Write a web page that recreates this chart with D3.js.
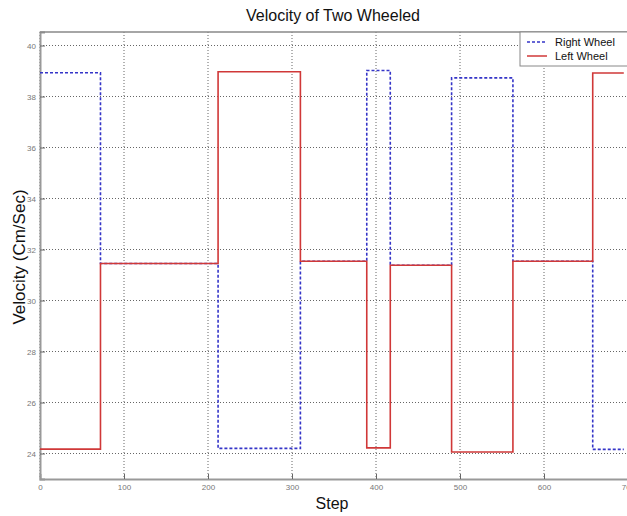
<!DOCTYPE html>
<html>
<head>
<meta charset="utf-8">
<script src="https://cdn.jsdelivr.net/npm/d3@7"></script>
<style>
  body { margin: 0; background: #fff; }
  svg { display: block; font-family: "Liberation Sans", Arial, sans-serif; }
</style>
</head>
<body>
<script>
// Step positions where the wheel speeds switch
const steps = [0, 72, 212, 310, 389, 417, 490, 563, 658, 695];
// Velocity held from each step to the next one
const rightWheel = [38.93, 31.45, 24.2, 31.54, 39.02, 31.38, 38.73, 31.54, 24.16, 24.16];
const leftWheel = [24.17, 31.45, 38.97, 31.54, 24.22, 31.38, 24.06, 31.54, 38.92, 38.92];
const xTicks = [0, 100, 200, 300, 400, 500, 600, 700];
const yTicks = [24, 26, 28, 30, 32, 34, 36, 38, 40];

const outerWidth = 627;
const outerHeight = 516;
const margin = { top: 32, right: -1, bottom: 37, left: 40 };
const width = outerWidth - margin.left - margin.right;
const height = outerHeight - margin.top - margin.bottom;

const svg = d3.select("body").append("svg")
    .attr("width", outerWidth)
    .attr("height", outerHeight);

const g = svg.append("g")
    .attr("transform", `translate(${margin.left},${margin.top})`);

const x = d3.scaleLinear().domain([0, 700]).range([0, width]);
const y = d3.scaleLinear().domain([23, 40.53]).range([height, 0]);

// Grid lines
g.append("g").selectAll("line")
    .data(xTicks)
    .join("line")
    .attr("x1", d => x(d)).attr("x2", d => x(d))
    .attr("y1", 0).attr("y2", height)
    .attr("stroke", "#666")
    .attr("stroke-dasharray", "1,2");

g.append("g").selectAll("line")
    .data(yTicks)
    .join("line")
    .attr("x1", 0).attr("x2", width)
    .attr("y1", d => y(d)).attr("y2", d => y(d))
    .attr("stroke", "#666")
    .attr("stroke-dasharray", "1,2");

// Axes with ticks pointing inward
const xAxis = g.append("g")
    .attr("transform", `translate(0,${height})`)
    .call(d3.axisBottom(x).tickValues(xTicks).tickSize(-5).tickPadding(5));

const yAxis = g.append("g")
    .call(d3.axisLeft(y).tickValues(yTicks).tickSize(-5).tickPadding(4));

[xAxis, yAxis].forEach(a => {
    a.select(".domain").attr("stroke", "#999").attr("stroke-width", 2);
    a.selectAll(".tick line").attr("stroke", "#666");
    a.selectAll(".tick text")
        .attr("fill", "#777")
        .style("font-size", "8px")
        .style("font-family", "'Liberation Sans Narrow', 'Liberation Sans', sans-serif");
});

// Top frame
g.append("line")
    .attr("x1", 0).attr("x2", width)
    .attr("y1", 0).attr("y2", 0)
    .attr("stroke", "#888").attr("stroke-width", 1.5);

const line = d3.line()
    .x((d, i) => x(steps[i]))
    .y(d => y(d))
    .curve(d3.curveStepAfter);

g.append("path")
    .datum(rightWheel)
    .attr("d", line)
    .attr("fill", "none")
    .attr("stroke", "#3535c8")
    .attr("stroke-width", 1.6)
    .attr("stroke-dasharray", "3,2");

g.append("path")
    .datum(leftWheel)
    .attr("d", line)
    .attr("fill", "none")
    .attr("stroke", "#d03838")
    .attr("stroke-width", 1.6);

// Title and axis labels
svg.append("text")
    .attr("x", 333).attr("y", 21)
    .attr("text-anchor", "middle")
    .style("font-size", "16px")
    .attr("fill", "#111")
    .text("Velocity of Two Wheeled");

svg.append("text")
    .attr("x", 332).attr("y", 509)
    .attr("text-anchor", "middle")
    .style("font-size", "16px")
    .attr("fill", "#111")
    .text("Step");

svg.append("text")
    .attr("transform", "translate(25,257) rotate(-90)")
    .attr("text-anchor", "middle")
    .style("font-size", "17px")
    .attr("fill", "#111")
    .text("Velocity (Cm/Sec)");

// Legend
const legend = svg.append("g").attr("transform", "translate(520,32)");
legend.append("rect")
    .attr("width", 110).attr("height", 34)
    .attr("fill", "#fff")
    .attr("stroke", "#888");

const legendItems = legend.selectAll(".legend-item")
    .data([
        { label: "Right Wheel", color: "#3535c8", dash: "3,2" },
        { label: "Left Wheel", color: "#d03838", dash: null }
    ])
    .join("g")
    .attr("class", "legend-item")
    .attr("transform", (d, i) => `translate(0,${10 + i * 14})`);

legendItems.append("line")
    .attr("x1", 7).attr("x2", 27)
    .attr("stroke", d => d.color)
    .attr("stroke-width", 1.5)
    .attr("stroke-dasharray", d => d.dash);

legendItems.append("text")
    .attr("x", 35).attr("y", 4)
    .style("font-size", "11px")
    .attr("fill", "#111")
    .text(d => d.label);
</script>
</body>
</html>
